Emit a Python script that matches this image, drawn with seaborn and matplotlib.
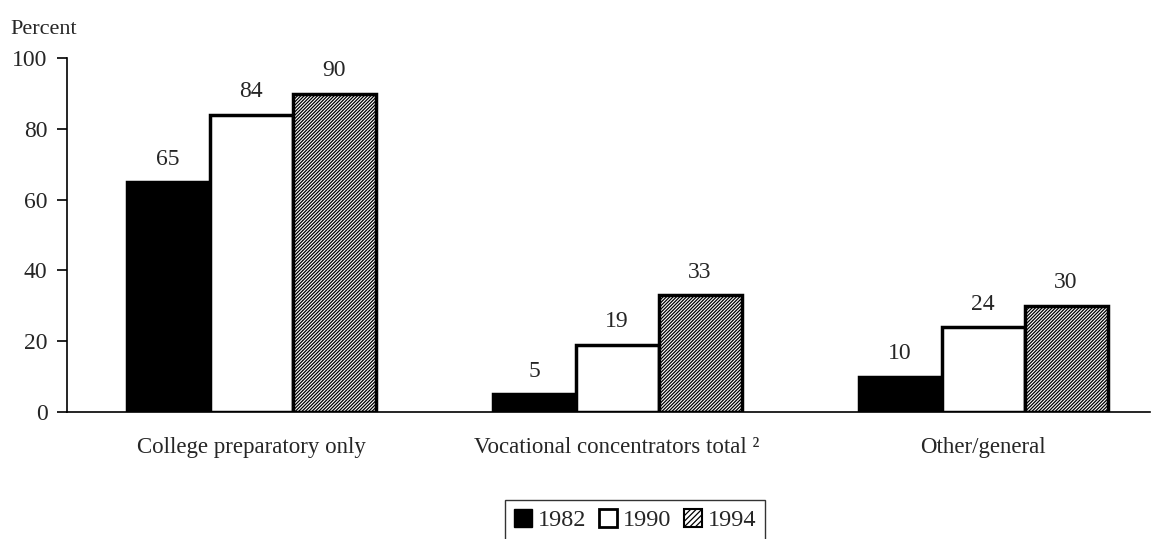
import matplotlib
matplotlib.use("Agg")
import matplotlib.pyplot as plt
import seaborn as sns
import pandas as pd
from matplotlib.patches import Patch

categories = ["College preparatory only", "Vocational concentrators total \u00b2", "Other/general"]
years = ["1982", "1990", "1994"]
v1982 = [65, 5, 10]
v1990 = [84, 19, 24]
v1994 = [90, 33, 30]

df = pd.DataFrame({
    "category": categories * 3,
    "year": [y for y in years for _ in categories],
    "value": v1982 + v1990 + v1994,
})

sns.set_theme(style="white")
plt.rcParams["font.family"] = ["Liberation Serif", "DejaVu Serif"]
plt.rcParams["hatch.linewidth"] = 0.9

fig = plt.figure(figsize=(11.55, 5.39), dpi=100)
ax = fig.add_axes([0.058, 0.2356, 0.9377, 0.6564])

sns.barplot(data=df, x="category", y="value", hue="year", order=categories,
            hue_order=years, width=0.68, ax=ax, legend=False, saturation=1,
            palette=["black", "white", "white"], edgecolor="black", linewidth=2.5)

styles = {"1982": ("black", ""), "1990": ("white", ""), "1994": ("white", "//////////")}
for cont, yr in zip(ax.containers, years):
    fc, h = styles[yr]
    for bar in cont:
        bar.set_facecolor(fc)
        bar.set_hatch(h)
        bar.set_edgecolor("black")
    ax.bar_label(cont, labels=[str(int(b.get_height())) for b in cont],
                 padding=9, fontsize=17)

ax.set_xlim(-0.503, 2.456)
ax.set_ylim(0, 100)
ax.set_yticks([0, 20, 40, 60, 80, 100])
ax.set_xlabel("")
ax.set_ylabel("")
ax.text(-0.052, 1.055, "Percent", transform=ax.transAxes, fontsize=16, ha="left", va="bottom")
for s in ["top", "right"]:
    ax.spines[s].set_visible(False)
ax.spines["left"].set_color("black")
ax.spines["bottom"].set_color("black")
ax.spines["left"].set_linewidth(1.2)
ax.spines["bottom"].set_linewidth(1.2)
ax.tick_params(axis="y", left=True, length=7, width=1.2, color="black", labelsize=17, pad=7)
ax.tick_params(axis="x", bottom=False, labelsize=16.5, pad=12)

handles = [Patch(facecolor="black", edgecolor="black"),
           Patch(facecolor="white", edgecolor="black", linewidth=2),
           Patch(facecolor="white", edgecolor="black", linewidth=1.5, hatch="//////")]
fig.legend(handles, years, loc="center", bbox_to_anchor=(0.550, 0.035), ncol=3,
           frameon=True, fancybox=False, edgecolor="black", fontsize=17.5,
           handlelength=0.75, handleheight=0.75, handletextpad=0.25, columnspacing=0.5,
           borderpad=0.35, borderaxespad=0.2)

fig.savefig("out.png", dpi=100)
